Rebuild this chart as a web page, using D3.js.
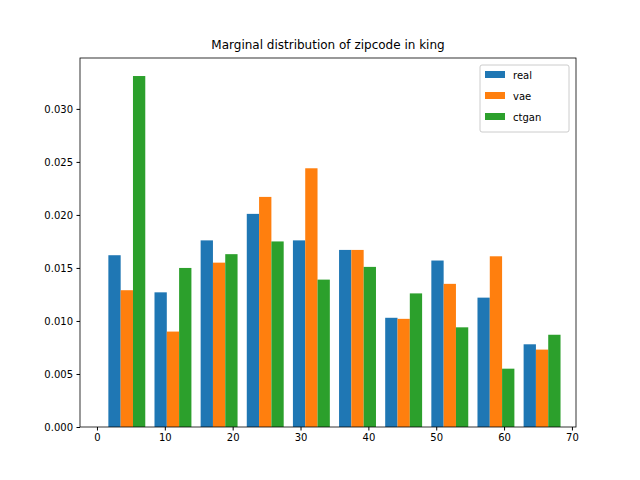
<!DOCTYPE html>
<html><head><meta charset="utf-8">
<script src="https://cdn.jsdelivr.net/npm/d3@7"></script>
<style>body{margin:0;background:#fff}text{font-family:"DejaVu Sans",sans-serif}</style>
</head><body>
<script>
const series = ['real', 'vae', 'ctgan'];
const colors = ['#1f77b4', '#ff7f0e', '#2ca02c'];
const binStart = 1, binWidth = 6.8;
const real = [0.0162, 0.0127, 0.0176, 0.0201, 0.0176, 0.0167, 0.0103, 0.0157, 0.0122, 0.0078];
const vae = [0.0129, 0.0090, 0.0155, 0.0217, 0.0244, 0.0167, 0.0102, 0.0135, 0.0161, 0.0073];
const ctgan = [0.0331, 0.0150, 0.0163, 0.0175, 0.0139, 0.0151, 0.0126, 0.0094, 0.0055, 0.0087];
const xTicks = [0, 10, 20, 30, 40, 50, 60, 70];
const yTicks = [0, 0.005, 0.010, 0.015, 0.020, 0.025, 0.030];
const values = [real, vae, ctgan];

const W = 640, H = 480, L = 80, R = 576, T = 58, B = 427;
const svg = d3.select('body').append('svg').attr('width', W).attr('height', H);
const x = d3.scaleLinear().domain([-2.5, 70.6]).range([L, R]);
const y = d3.scaleLinear().domain([0, 0.0348]).range([B, T]);

const bw = binWidth * 0.8 / 3;
values.forEach((vals, s) => {
  svg.append('g').selectAll('rect').data(vals).enter().append('rect')
    .attr('x', (d, i) => x(binStart + i * binWidth + binWidth * 0.1 + s * bw))
    .attr('width', x(bw) - x(0))
    .attr('y', d => y(d))
    .attr('height', d => B - y(d))
    .attr('fill', colors[s]);
});

svg.append('g').attr('transform', `translate(0,${B})`)
  .call(d3.axisBottom(x).tickValues(xTicks).tickSize(3.5).tickPadding(3.5))
  .call(g => g.selectAll('text').attr('font-size', 10).attr('fill', '#000'));
svg.append('g').attr('transform', `translate(${L},0)`)
  .call(d3.axisLeft(y).tickValues(yTicks).tickFormat(d3.format('.3f')).tickSize(3.5).tickPadding(3.5))
  .call(g => g.selectAll('text').attr('font-size', 10).attr('fill', '#000'));
svg.selectAll('.domain').remove();
svg.append('rect').attr('x', L).attr('y', T).attr('width', R - L).attr('height', B - T)
  .attr('fill', 'none').attr('stroke', '#000').attr('stroke-width', 0.8);

svg.append('text').attr('x', (L + R) / 2).attr('y', 49).attr('text-anchor', 'middle')
  .attr('font-size', 12).text('Marginal distribution of zipcode in king');

const lg = svg.append('g').attr('transform', 'translate(480,65)');
lg.append('rect').attr('width', 89).attr('height', 67).attr('rx', 2)
  .attr('fill', '#fff').attr('stroke', '#ccc');
series.forEach((s, i) => {
  lg.append('rect').attr('x', 5).attr('y', 6 + i * 21).attr('width', 20).attr('height', 7).attr('fill', colors[i]);
  lg.append('text').attr('x', 33).attr('y', 14 + i * 21).attr('font-size', 10).text(s);
});
</script>
</body></html>
